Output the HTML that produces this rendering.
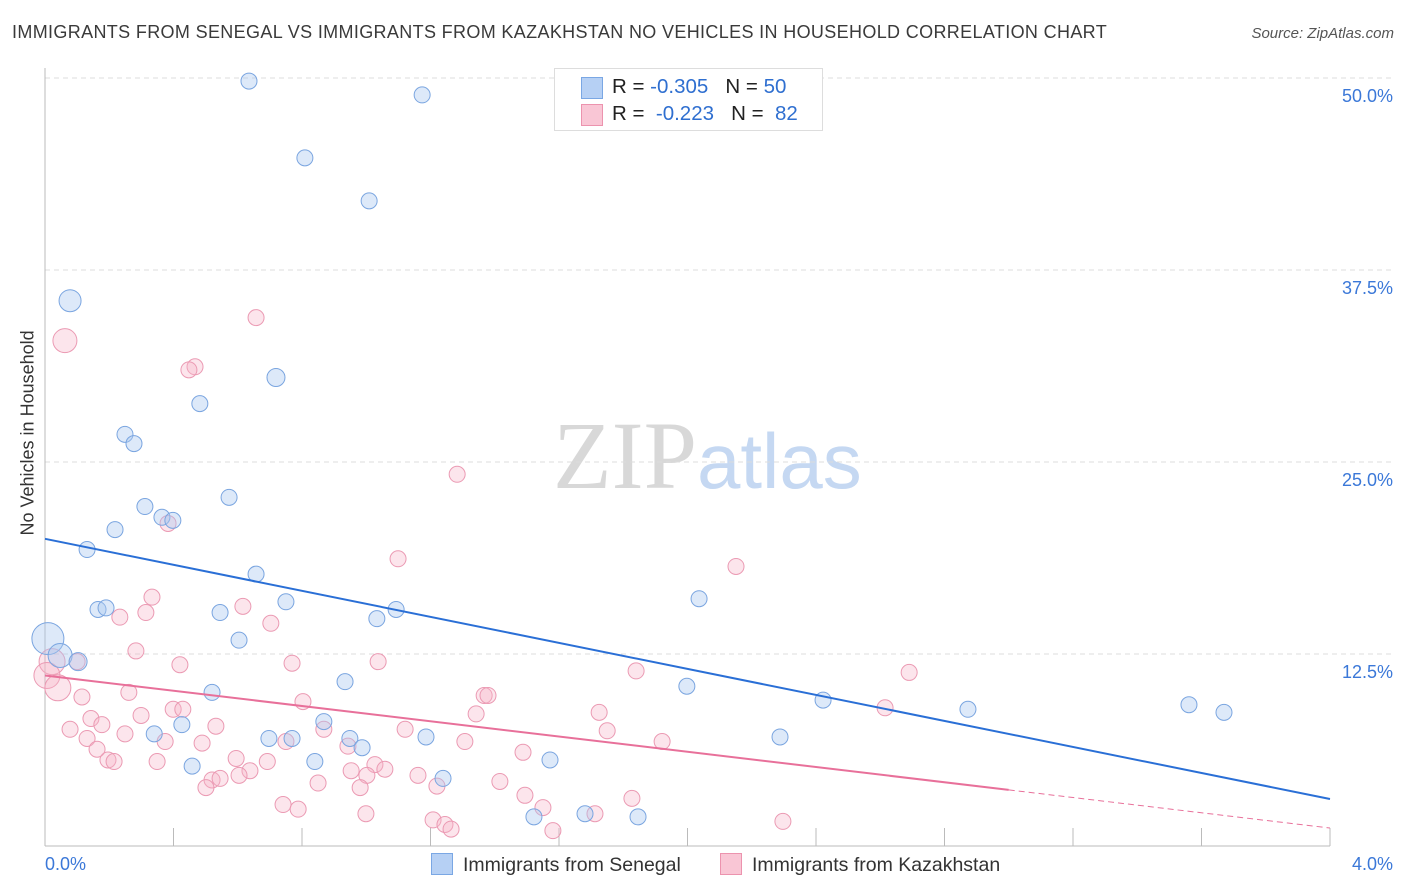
<!DOCTYPE html>
<html><head><meta charset="utf-8"><style>
body{margin:0;width:1406px;height:892px;background:#fff;font-family:"Liberation Sans",sans-serif;overflow:hidden;position:relative}
.t{position:absolute;white-space:nowrap}
</style></head><body>
<div class="t" style="left:12px;top:22px;font-size:18px;letter-spacing:0.35px;color:#3a3a3a">IMMIGRANTS FROM SENEGAL VS IMMIGRANTS FROM KAZAKHSTAN NO VEHICLES IN HOUSEHOLD CORRELATION CHART</div>
<div class="t" style="right:12px;top:25px;font-size:15px;color:#555;font-style:italic">Source: ZipAtlas.com</div>
<div class="t" style="left:-52px;top:445px;font-size:18px;color:#333;transform:rotate(-90deg);width:160px;text-align:center">No Vehicles in Household</div>
<div class="t" style="left:553px;top:400px;font-size:96px;font-family:'Liberation Serif',serif;color:#d8d8d8">ZIP<span style="font-family:'Liberation Sans',sans-serif;color:#c5d8f2;font-size:78px">atlas</span></div>
<svg id="c" width="1406" height="892" style="position:absolute;left:0;top:0"></svg>
<div class="t" style="left:554px;top:68px;width:267px;height:61px;border:1px solid #ddd;background:#fff;font-size:20.5px;color:#222">
<div style="position:absolute;left:26px;top:8px;width:20px;height:20px;background:#b6d0f4;border:1px solid #7aa7e4"></div>
<div class="t" style="left:57px;top:6px">R = <span style="color:#2f6fd0">-0.305</span>&nbsp;&nbsp;&nbsp;N = <span style="color:#2f6fd0">50</span></div>
<div style="position:absolute;left:26px;top:35px;width:20px;height:20px;background:#f9c6d5;border:1px solid #ec93ae"></div>
<div class="t" style="left:57px;top:33px">R = &nbsp;<span style="color:#2f6fd0">-0.223</span>&nbsp;&nbsp;&nbsp;N = &nbsp;<span style="color:#2f6fd0">82</span></div>
</div>
<div class="t" style="left:431px;top:853px;font-size:19.5px;color:#333"><span style="display:inline-block;width:20px;height:20px;background:#b6d0f4;border:1px solid #7aa7e4;vertical-align:-4px;margin-right:10px"></span>Immigrants from Senegal</div>
<div class="t" style="left:720px;top:853px;font-size:19.5px;color:#333"><span style="display:inline-block;width:20px;height:20px;background:#f9c6d5;border:1px solid #ec93ae;vertical-align:-4px;margin-right:10px"></span>Immigrants from Kazakhstan</div>
<script>
const yTicks=[12.5,25,37.5,50];
const yTickLabels=["12.5%","25.0%","37.5%","50.0%"];
const xTickLabels=["0.0%","4.0%"];
const senX=[0.635,1.174,0.809,1.009,0.078,0.719,0.482,0.249,0.277,0.573,0.311,0.364,0.398,0.218,0.131,0.657,2.036,0.750,0.165,0.190,1.093,0.545,1.033,0.604,0.009,0.047,0.103,0.934,1.998,0.520,2.422,2.873,3.561,3.670,0.426,0.868,0.340,0.697,0.769,0.949,1.186,2.288,0.987,0.840,1.572,0.458,1.239,1.522,1.681,1.846];
const senY=[49.8,48.9,44.8,42.0,35.5,30.5,28.8,26.8,26.2,22.7,22.1,21.4,21.2,20.6,19.3,17.7,16.1,15.9,15.4,15.5,15.4,15.2,14.8,13.4,13.5,12.4,12.0,10.7,10.4,10.0,9.5,8.9,9.2,8.7,7.9,8.1,7.3,7.0,7.0,7.0,7.1,7.1,6.4,5.5,5.6,5.2,4.4,1.9,2.1,1.9];
const senR=[8,8,8,8,11,9,8,8,8,8,8,8,8,8,8,8,8,8,8,8,8,8,8,8,16,12,9,8,8,8,8,8,8,8,8,8,8,8,8,8,8,8,8,8,8,8,8,8,8,8];
const kazX=[0.062,0.657,0.467,0.448,1.283,0.383,1.099,2.151,0.333,0.616,0.314,0.233,0.703,0.283,0.022,0.006,0.040,0.100,0.420,0.769,1.037,1.840,2.690,0.115,0.261,1.367,1.379,0.803,2.615,0.399,0.429,0.299,1.342,1.725,0.143,0.177,0.532,0.078,0.868,1.121,1.750,0.249,0.131,0.374,0.489,0.750,1.307,1.921,0.162,0.943,1.488,0.595,0.196,0.215,0.349,0.692,1.027,1.058,0.953,0.638,0.604,1.002,1.161,0.520,0.545,1.416,0.850,0.501,1.220,0.981,1.494,1.827,0.741,0.788,1.550,0.999,1.712,1.208,1.245,1.264,2.297,1.581];
const kazY=[32.9,34.4,31.2,31.0,24.2,21.0,18.7,18.2,16.2,15.6,15.2,14.9,14.5,12.7,12.0,11.1,10.3,12.0,11.8,11.9,12.0,11.4,11.3,9.7,10.0,9.8,9.8,9.4,9.0,8.9,8.9,8.5,8.6,8.7,8.3,7.9,7.8,7.6,7.6,7.6,7.5,7.3,7.0,6.8,6.7,6.8,6.8,6.8,6.3,6.5,6.1,5.7,5.6,5.5,5.5,5.5,5.3,5.0,4.9,4.9,4.6,4.6,4.6,4.3,4.4,4.2,4.1,3.8,3.9,3.8,3.3,3.1,2.7,2.4,2.5,2.1,2.1,1.7,1.4,1.1,1.6,1.0];
const senTrend=[20.0,3.06];
const kazTrend=[11.1,1.17];
const kazSolidEnd=3.0;
const NS="http://www.w3.org/2000/svg";
const svg=document.getElementById('c');
const X=v=>45+v/4*1285, Y=v=>846-v/12.5*192;
function mk(t,a){const e=document.createElementNS(NS,t);for(const k in a)e.setAttribute(k,a[k]);svg.appendChild(e);return e;}
yTicks.forEach((v,i)=>{
 const g=mk('line',{x1:45,x2:1392,y1:Y(v),y2:Y(v),stroke:'#dcdcdc','stroke-dasharray':'5,4'});
 
 
 const t=mk('text',{x:1393,y:Y(v)+24,'text-anchor':'end','font-size':18,fill:'#3b78d8','font-family':'Liberation Sans'});
 t.textContent=yTickLabels[i];
 
 
});
const ax=mk('line',{x1:45,x2:45,y1:68,y2:846,stroke:'#bbb'});


const bx=mk('line',{x1:45,x2:1330,y1:846,y2:846,stroke:'#bbb'});


for(let i=1;i<=10;i++){const l=mk('line',{x1:X(i*0.4),x2:X(i*0.4),y1:828,y2:846,stroke:'#bbb'});
 
 }
[[45,'start'],[1393,'end']].forEach((d,i)=>{const t=mk('text',{x:d[0],y:870,'text-anchor':d[1],'font-size':18,fill:'#3b78d8','font-family':'Liberation Sans'});
 t.textContent=xTickLabels[i];
 
 });
kazX.forEach((x,i)=>{const c=mk('circle',{cx:X(x),cy:Y(kazY[i]),r:(i<1||i>13&&i<17)?(i<1?12:13):8,fill:'rgba(246,180,200,0.35)',stroke:'#eb9ab3','stroke-width':1});
 
 });
senX.forEach((x,i)=>{const c=mk('circle',{cx:X(x),cy:Y(senY[i]),r:senR[i],fill:'rgba(170,200,240,0.4)',stroke:'#7aa5e0','stroke-width':1});
 
 });
const b=mk('line',{x1:X(0),y1:Y(senTrend[0]),x2:X(4),y2:Y(senTrend[1]),stroke:'#2a6fd6','stroke-width':2});


const ky=x=>kazTrend[0]+(kazTrend[1]-kazTrend[0])*x/4;
const p=mk('line',{x1:X(0),y1:Y(kazTrend[0]),x2:X(kazSolidEnd),y2:Y(ky(kazSolidEnd)),stroke:'#e8709a','stroke-width':2});


const pd=mk('line',{x1:X(kazSolidEnd),y1:Y(ky(kazSolidEnd)),x2:X(4),y2:Y(kazTrend[1]),stroke:'#e8709a','stroke-width':1,'stroke-dasharray':'6,4'});


</script>
</body></html>
